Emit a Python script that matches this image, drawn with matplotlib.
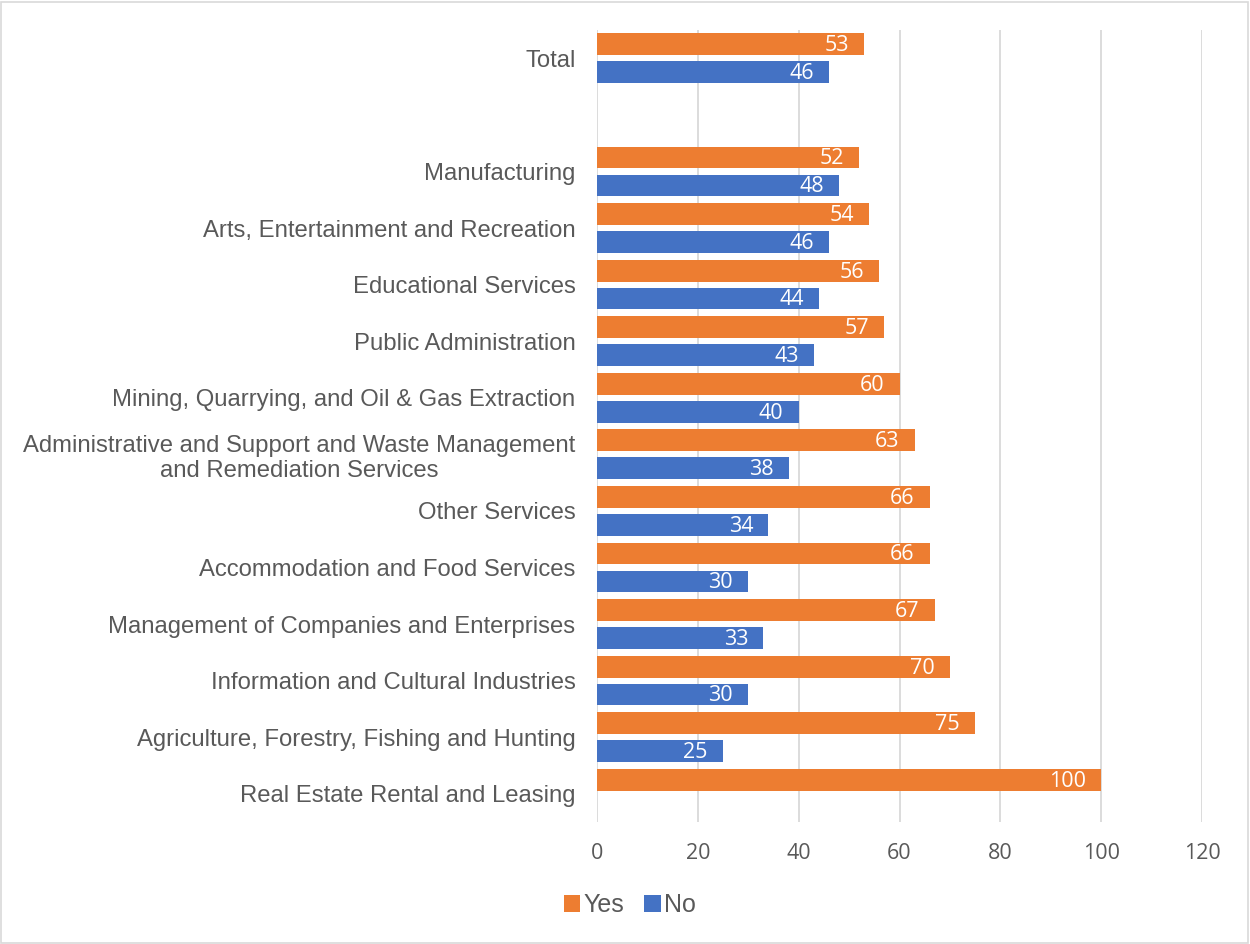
import matplotlib

matplotlib.use("Agg")
import matplotlib.pyplot as plt
import numpy as np
from matplotlib.patches import Rectangle

categories = [
    "Total",
    "",
    "Manufacturing",
    "Arts, Entertainment and Recreation",
    "Educational Services",
    "Public Administration",
    "Mining, Quarrying, and Oil & Gas Extraction",
    "Administrative and Support and Waste Management\nand Remediation Services",
    "Other Services",
    "Accommodation and Food Services",
    "Management of Companies and Enterprises",
    "Information and Cultural Industries",
    "Agriculture, Forestry, Fishing and Hunting",
    "Real Estate Rental and Leasing",
]
yes_values = [53, np.nan, 52, 54, 56, 57, 60, 63, 66, 66, 67, 70, 75, 100]
no_values = [46, np.nan, 48, 46, 44, 43, 40, 38, 34, 30, 33, 30, 25, np.nan]
x_ticks = [0, 20, 40, 60, 80, 100, 120]

YES_COLOR = "#ED7D31"
NO_COLOR = "#4472C4"
TEXT_COLOR = "#595959"
GRID_COLOR = "#D9D9D9"
NUM_FONT = "Open Sans"
LABEL_FONT = "Liberation Sans"

fig = plt.figure(figsize=(12.5, 9.44), dpi=100)
ax = fig.add_axes([0.4776, 0.1292, 0.9616 - 0.4776, 0.9682 - 0.1292])

pos = np.arange(len(categories))
offset = 0.247
height = 0.385

yes_bars = ax.barh(pos - offset, yes_values, height=height, color=YES_COLOR, label="Yes", zorder=3)
no_bars = ax.barh(pos + offset, no_values, height=height, color=NO_COLOR, label="No", zorder=3)

# value labels sit just inside the end of each bar
for bars, values in ((yes_bars, yes_values), (no_bars, no_values)):
    for bar, v in zip(bars, values):
        if np.isnan(v):
            continue
        ax.annotate(
            f"{v:.0f}",
            xy=(v, bar.get_y() + bar.get_height() / 2),
            xytext=(-11, -1),
            textcoords="offset points",
            ha="right",
            va="center",
            color="white",
            fontsize=15.5,
            family=NUM_FONT,
            zorder=4,
        )

ax.set_ylim(len(categories) - 0.5, -0.5)
ax.set_xlim(0, 120)
ax.set_xticks(x_ticks)
ax.set_xticklabels([str(t) for t in x_ticks], family=NUM_FONT, fontsize=15.5, color=TEXT_COLOR)
ax.set_yticks(pos)
ax.set_yticklabels(categories, family=LABEL_FONT, fontsize=17.2, color=TEXT_COLOR, multialignment="center")
ax.tick_params(axis="y", length=0, pad=15.5)
ax.tick_params(axis="x", length=0, pad=15)
ax.grid(axis="x", color=GRID_COLOR, linewidth=1.3, zorder=0)
for side in ("top", "right", "bottom", "left"):
    ax.spines[side].set_visible(False)

fig.legend(
    handles=[yes_bars, no_bars],
    labels=["Yes", "No"],
    loc="center",
    bbox_to_anchor=(630 / 1250, 1 - 905 / 944),
    ncol=2,
    frameon=False,
    handlelength=0.65,
    handleheight=0.65,
    handletextpad=0.15,
    columnspacing=0.8,
    prop={"family": LABEL_FONT, "size": 18},
    labelcolor=TEXT_COLOR,
)

fig.patches.append(
    Rectangle((0.001, 0.001), 0.997, 0.997, transform=fig.transFigure,
              fill=False, edgecolor=GRID_COLOR, linewidth=1.2)
)

fig.savefig("out.png", dpi=100, facecolor="white")
